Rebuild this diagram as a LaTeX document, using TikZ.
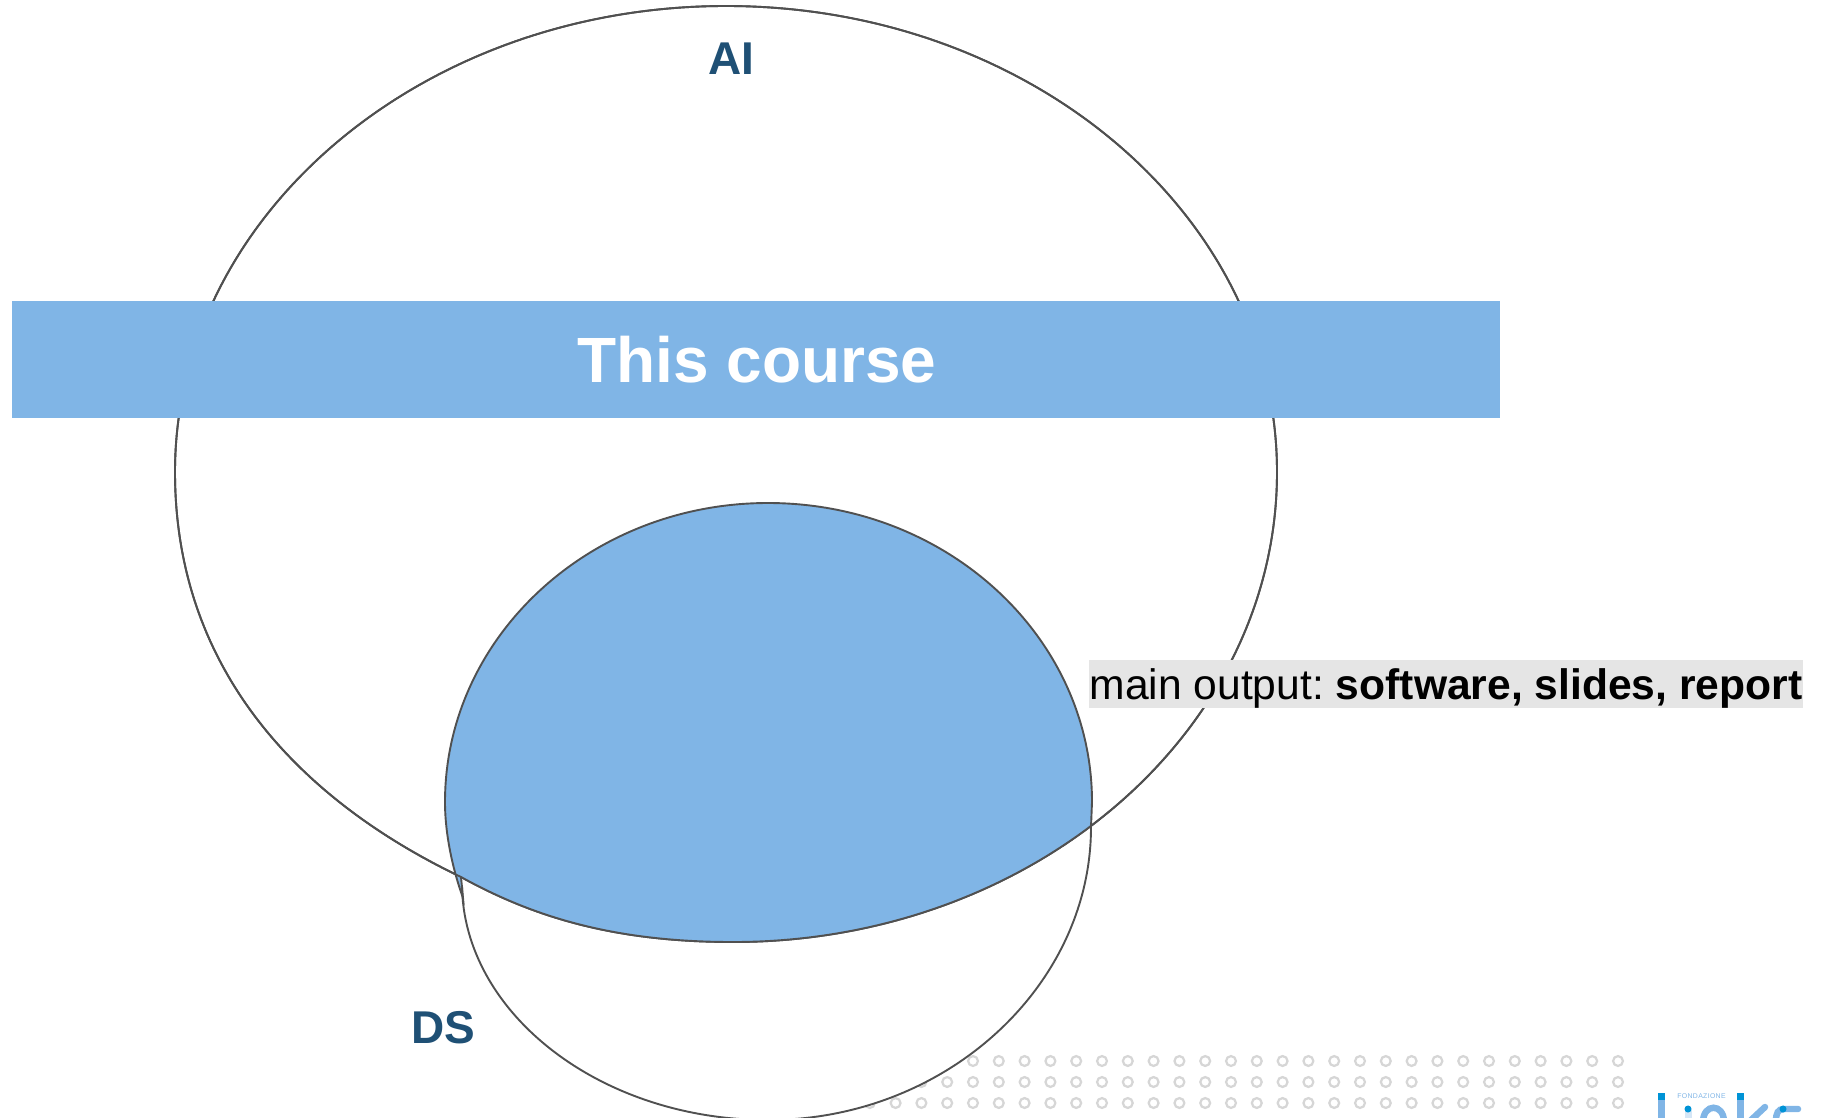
\documentclass[tikz,border=0pt]{standalone}
\usepackage{fontspec}
\setmainfont{Liberation Sans}
\definecolor{coursecol}{HTML}{80B5E6}
\definecolor{labelcol}{HTML}{1F5075}
\definecolor{edgecol}{HTML}{505050}
\definecolor{dotcol}{HTML}{D6D6D6}
\definecolor{linkdark}{HTML}{0093D6}
\definecolor{linkpale}{HTML}{D5E6F6}
\tikzset{
  setline/.style={draw=edgecol, line width=1.35pt},
  setlabel/.style={text=labelcol, font=\fontsize{32.7}{38}\selectfont\bfseries},
  griddot/.style={draw=dotcol, line width=1.6pt, circle, minimum size=7pt, inner sep=0pt},
  linkstroke/.style={draw=coursecol, line width=4.6pt, line cap=round}
}
\newcommand{\aipath}{(726, 6) .. controls (1030, 6) and (1277, 215) .. (1277, 472)
  .. controls (1277, 732) and (1033, 942) .. (733, 942)
  .. controls (610, 942) and (530, 915) .. (461, 877)
  .. controls (300, 800) and (175, 670) .. (175, 472)
  .. controls (175, 215) and (422, 6) .. (726, 6) -- cycle}
\begin{document}
\begin{tikzpicture}[x=0.025cm, y=-0.025cm]
  \useasboundingbox (0, 0) rectangle (1822, 1118);

  % dots behind the circles
  \foreach \col in {0, ..., 29} {
    \node [griddot] (dot_a\col) at (1618 - 25.8 * \col, 1061) {};
    \node [griddot] (dot_b\col) at (1618 - 25.8 * \col, 1082) {};
    \node [griddot] (dot_c\col) at (1618 - 25.8 * \col, 1103) {};
  }

  % lower part of DS
  \draw [setline, fill=white] (1091, 827) .. controls (1091, 986) and (946, 1120) .. (768, 1120)
    .. controls (599, 1120) and (463, 1012) .. (462, 885);
  \draw [setline, fill=white] \aipath;

  % overlap
  \begin{scope}
    \clip \aipath;
    \fill [coursecol] (445, 802) .. controls (445, 637) and (590, 503) .. (768, 503)
      .. controls (947, 503) and (1092, 637) .. (1092, 802) -- (1091, 1000) -- (462, 1000) -- (463, 898)
      .. controls (453, 870) and (445, 835) .. (445, 802) -- cycle;
  \end{scope}
  \fill [coursecol] (455, 874) -- (461, 877) -- (463, 898) -- cycle;
  \draw [setline] \aipath;
  \draw [setline] (1091, 827) -- (1092, 802) .. controls (1092, 637) and (947, 503) .. (768, 503)
    .. controls (590, 503) and (445, 637) .. (445, 802)
    .. controls (445, 835) and (453, 870) .. (463, 898) -- (461, 877);

  \node [setlabel] (AI_label) at (731, 59) {AI};
  \node [setlabel] (DS_label) at (443, 1028) {DS};

  \node [fill=coursecol, minimum width=1488*0.711pt, minimum height=118*0.711pt, inner sep=0pt, text=white,
         font=\fontsize{45.5}{54}\selectfont\bfseries] (course_bar) at (756, 359.5) {\hspace{1.5pt}This course};

  \node [fill=black!10, inner sep=0pt, minimum width=714*0.711pt, minimum height=48*0.711pt,
         text height=26pt, text depth=3.8pt,
         font=\fontsize{30.3}{36}\selectfont\frenchspacing] (output_box) at (1446, 684) {main output: \textbf{software, slides, report}};

  % logo, cut by the page edge
  \fill [coursecol] (1658, 1100) rectangle (1665, 1118);
  \fill [coursecol] (1737, 1100) rectangle (1744, 1118);
  \fill [linkdark] (1658, 1093) rectangle (1665, 1100);
  \fill [linkdark] (1737, 1093) rectangle (1744, 1100);
  \fill [linkpale] (1684.5, 1110) rectangle (1691.5, 1118);
  \node [fill=linkdark, circle, inner sep=0pt, minimum size=5pt] (logo_dot_i) at (1688, 1109) {};
  \draw [linkstroke] (1703, 1122) .. controls (1703, 1103) and (1724, 1103) .. (1724, 1122);
  \draw [linkstroke] (1765, 1107) -- (1750, 1121);
  \draw [linkstroke] (1798, 1109) -- (1784, 1109) .. controls (1778, 1109) and (1776, 1113) .. (1776, 1121);
  \node [fill=linkdark, circle, inner sep=0pt, minimum size=5pt] (logo_dot_s) at (1783, 1109) {};
  \node [text=coursecol, inner sep=0pt, font=\fontsize{4.9}{6}\selectfont\addfontfeature{LetterSpace=5}] (logo_text) at (1701.5, 1096) {FONDAZIONE};
\end{tikzpicture}
\end{document}
